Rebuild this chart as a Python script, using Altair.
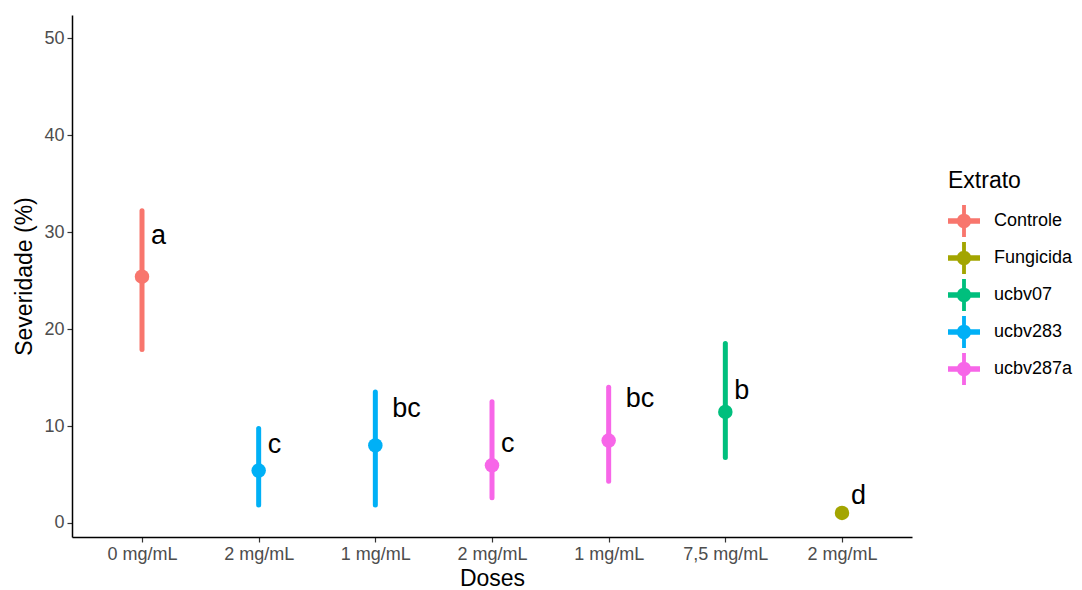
import altair as alt
import pandas as pd

# ---- data ----
extrato = ["Controle", "ucbv283", "ucbv283", "ucbv287a", "ucbv287a", "ucbv07", "Fungicida"]
doses = ["0 mg/mL", "2 mg/mL", "1 mg/mL", "2 mg/mL", "1 mg/mL", "7,5 mg/mL", "2 mg/mL"]
media = [25.4, 5.4, 8.0, 5.95, 8.5, 11.45, 1.03]
inferior = [17.9, 1.85, 1.85, 2.6, 4.3, 6.75, 1.03]
superior = [32.2, 9.75, 13.5, 12.5, 14.0, 18.5, 1.03]
letras = ["a", "c", "bc", "c", "bc", "b", "d"]
letra_y = [28.8, 7.2, 10.9, 7.3, 12.0, 12.8, 2.0]

legend_order = ["Controle", "Fungicida", "ucbv07", "ucbv283", "ucbv287a"]
cores = ["#F8766D", "#A3A500", "#00BF7D", "#00B0F6", "#F766E8"]
y_ticks = [0, 10, 20, 30, 40, 50]

keys = [f"{i}|{d}" for i, d in enumerate(doses)]
df = pd.DataFrame({
    "key": keys, "Extrato": extrato, "media": media, "inf": inferior,
    "sup": superior, "letra": letras, "ly": letra_y,
})

FONT = "Liberation Sans"

x_enc = alt.X(
    "key:N",
    sort=keys,
    scale=alt.Scale(type="point", padding=0.6),
    axis=alt.Axis(
        title="Doses",
        labelExpr="split(datum.label, '|')[1]",
        labelAngle=0,
    ),
)
y_scale = alt.Scale(domain=[-1.45, 52.4], nice=False, zero=False)
color_scale = alt.Scale(domain=legend_order, range=cores)
color_enc = alt.Color("Extrato:N", scale=color_scale, legend=alt.Legend(title="Extrato"))

base = alt.Chart(df)

rules = base.mark_rule(strokeWidth=5, strokeCap="round").encode(
    x=x_enc,
    y=alt.Y("inf:Q", scale=y_scale,
            axis=alt.Axis(title="Severidade (%)", values=y_ticks)),
    y2="sup:Q",
    color=color_enc,
)

points = base.mark_circle(size=210, opacity=1).encode(
    x=x_enc,
    y=alt.Y("media:Q", scale=y_scale),
    color=color_enc,
)

txt1 = base.transform_filter("length(datum.letra) == 1").mark_text(
    fontSize=27, font=FONT, align="left", baseline="alphabetic", dx=9, color="black"
).encode(x=x_enc, y=alt.Y("ly:Q", scale=y_scale), text="letra:N")

txt2 = base.transform_filter("length(datum.letra) > 1").mark_text(
    fontSize=27, font=FONT, align="left", baseline="alphabetic", dx=17, color="black"
).encode(x=x_enc, y=alt.Y("ly:Q", scale=y_scale), text="letra:N")

sym = ("M -1 -0.17 H 1 V 0.17 H -1 Z "
       "M -0.12 -1 H 0.12 V 1 H -0.12 Z "
       "M 0.45 0 A 0.45 0.45 0 1 1 -0.45 0 A 0.45 0.45 0 1 1 0.45 0 Z")

chart = alt.layer(rules, points, txt1, txt2).properties(
    width=840, height=522,
    autosize=alt.AutoSizeParams(type="none"),
    padding={"left": 64, "top": 7, "right": 162, "bottom": 58},
).configure_view(stroke=None).configure_axis(
    grid=False,
    domainColor="black",
    domainWidth=1.5,
    tickColor="#333333",
    tickSize=5,
    tickWidth=1.2,
    labelFont=FONT,
    labelFontSize=18,
    labelColor="#4D4D4D",
    labelPadding=3,
    titleFont=FONT,
    titleFontSize=23,
    titleFontWeight="normal",
    titleColor="black",
).configure_axisX(
    titlePadding=4,
).configure_axisY(
    titlePadding=7,
).configure_legend(
    orient="none",
    legendX=876,
    legendY=155,
    titleFont=FONT,
    titleFontSize=23,
    titleFontWeight="normal",
    titleColor="black",
    titlePadding=12,
    labelFont=FONT,
    labelFontSize=18,
    labelColor="black",
    labelOffset=14,
    labelLimit=200,
    symbolType=sym,
    symbolSize=1024,
    symbolStrokeWidth=0,
    symbolOpacity=1,
    rowPadding=5,
)

chart.save("out.html", embed_options={"renderer": "svg", "actions": False})
